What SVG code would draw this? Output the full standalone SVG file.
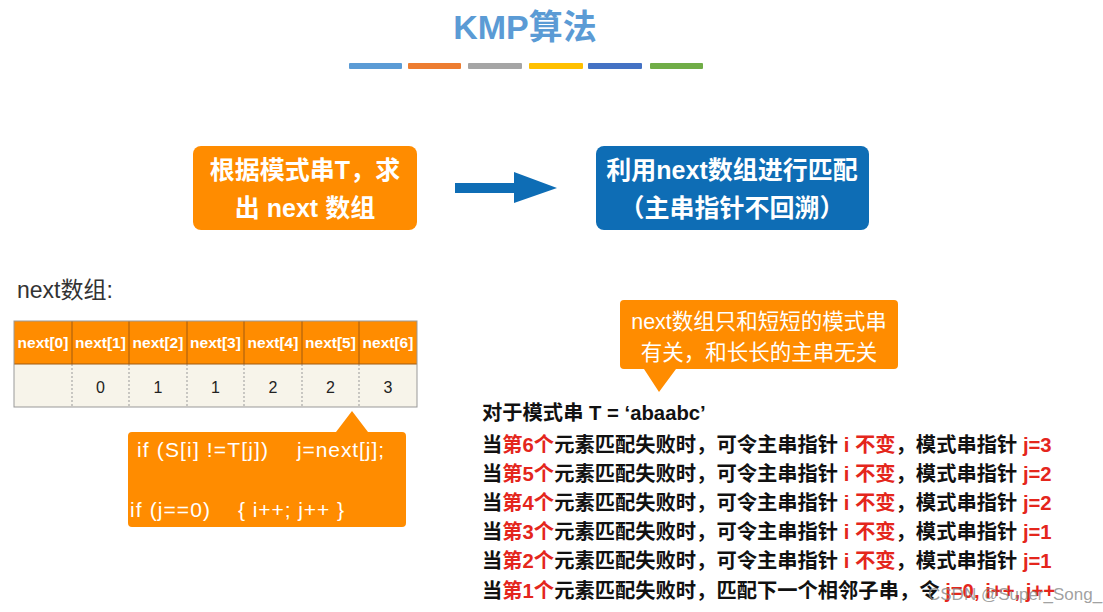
<svg xmlns="http://www.w3.org/2000/svg" width="1103" height="612" viewBox="0 0 1103 612">
<style>
text{font-family:"Liberation Sans","Noto Sans CJK SC",sans-serif}
.title{font-size:34px;font-weight:bold;fill:#5B9BD5}
.box{font-size:25px;font-weight:bold;fill:#fff}
.hd{font-size:15.5px;font-weight:bold;fill:#fff}
.val{font-size:16px;fill:#222}
.code{font-size:21px;fill:#fff}
.note{font-size:21.5px;fill:#fff}
.ln{font-size:20.3px;font-weight:bold;fill:#111}
.r{fill:#E4261C}
.sep{stroke:#A05A10;stroke-width:1}
.dot{stroke:#999;stroke-width:1;stroke-dasharray:2 2}
</style>
<rect width="1103" height="612" fill="#fff"/>
<g id="title">
<text class="title" x="525" y="39" text-anchor="middle">KMP算法</text>
<rect x="349" y="63" width="53" height="6" rx="1" fill="#5B9BD5"/>
<rect x="408" y="63" width="53" height="6" rx="1" fill="#ED7D31"/>
<rect x="468" y="63" width="54" height="6" rx="1" fill="#A5A5A5"/>
<rect x="529" y="63" width="54" height="6" rx="1" fill="#FFC000"/>
<rect x="588" y="63" width="54" height="6" rx="1" fill="#4472C4"/>
<rect x="650" y="63" width="53" height="6" rx="1" fill="#70AD47"/>
</g>
<g id="node-build">
<rect x="193" y="146" width="224" height="84" rx="8" fill="#FF8C00"/>
<text class="box" x="305" y="179" text-anchor="middle">根据模式串T，求</text>
<text class="box" x="305" y="217" text-anchor="middle">出 next 数组</text>
</g>
<g id="node-match">
<rect x="596" y="146" width="273" height="84" rx="8" fill="#0E6DB5"/>
<text class="box" x="732" y="179" text-anchor="middle">利用next数组进行匹配</text>
<text class="box" x="732" y="217" text-anchor="middle">（主串指针不回溯）</text>
</g>
<g id="connectors">
<polygon points="455,183 514,183 514,172 557,188 514,203 514,193 455,193" fill="#0E6DB5"/>
</g>
<g id="next-label">
<text x="17" y="298" font-size="23" fill="#333">next数组:</text>
</g>
<g id="next-table">
<rect x="14" y="321" width="403" height="43" fill="#FF8C00"/>
<rect x="14" y="364" width="403" height="43" fill="#F7F4EA"/>
<g class="sep">
<line x1="72" y1="321" x2="72" y2="364"/><line x1="129" y1="321" x2="129" y2="364"/><line x1="187" y1="321" x2="187" y2="364"/><line x1="244" y1="321" x2="244" y2="364"/><line x1="302" y1="321" x2="302" y2="364"/><line x1="359" y1="321" x2="359" y2="364"/>
</g>
<g class="dot">
<line x1="72" y1="364" x2="72" y2="407"/><line x1="129" y1="364" x2="129" y2="407"/><line x1="187" y1="364" x2="187" y2="407"/><line x1="244" y1="364" x2="244" y2="407"/><line x1="302" y1="364" x2="302" y2="407"/><line x1="359" y1="364" x2="359" y2="407"/>
</g>
<line x1="14" y1="364" x2="417" y2="364" stroke="#A05A10" stroke-width="1"/>
<rect x="14" y="321" width="403" height="86" fill="none" stroke="#999" stroke-width="1"/>
<g text-anchor="middle">
<text class="hd" x="43" y="348">next[0]</text>
<text class="hd" x="100.5" y="348">next[1]</text>
<text class="hd" x="158" y="348">next[2]</text>
<text class="hd" x="215.5" y="348">next[3]</text>
<text class="hd" x="273" y="348">next[4]</text>
<text class="hd" x="330.5" y="348">next[5]</text>
<text class="hd" x="388" y="348">next[6]</text>
<text class="val" x="100.5" y="393">0</text>
<text class="val" x="158" y="393">1</text>
<text class="val" x="215.5" y="393">1</text>
<text class="val" x="273" y="393">2</text>
<text class="val" x="330.5" y="393">2</text>
<text class="val" x="388" y="393">3</text>
</g>
</g>
<g id="node-code">
<path d="M132,432 L336,432 L352,411 L368,432 L402,432 Q406,432 406,436 L406,523 Q406,527 402,527 L132,527 Q128,527 128,523 L128,436 Q128,432 132,432 Z" fill="#FF8C00"/>
<text class="code" x="137" y="457" textLength="131" lengthAdjust="spacing">if (S[i] !=T[j])</text>
<text class="code" x="297" y="457" textLength="87" lengthAdjust="spacing">j=next[j];</text>
<text class="code" x="130" y="517" textLength="80" lengthAdjust="spacing">if (j==0)</text>
<text class="code" x="238" y="517" textLength="106" lengthAdjust="spacing">{ i++; j++ }</text>
</g>
<g id="node-note">
<path d="M624,300 L894,300 Q898,300 898,304 L898,365 Q898,369 894,369 L676,369 L659,392 L644,369 L624,369 Q620,369 620,365 L620,304 Q620,300 624,300 Z" fill="#FF8C00"/>
<text class="note" x="759" y="329" text-anchor="middle">next数组只和短短的模式串</text>
<text class="note" x="759" y="360" text-anchor="middle">有关，和长长的主串无关</text>
</g>
<g id="explanation">
<text class="ln" x="482" y="420">对于模式串 T = ‘abaabc’</text>
<text class="ln" x="482" y="452">当<tspan class="r">第6个</tspan>元素匹配失败时，可令主串指针 <tspan class="r">i 不变</tspan>，模式串指针 <tspan class="r">j=3</tspan></text>
<text class="ln" x="482" y="481">当<tspan class="r">第5个</tspan>元素匹配失败时，可令主串指针 <tspan class="r">i 不变</tspan>，模式串指针 <tspan class="r">j=2</tspan></text>
<text class="ln" x="482" y="510">当<tspan class="r">第4个</tspan>元素匹配失败时，可令主串指针 <tspan class="r">i 不变</tspan>，模式串指针 <tspan class="r">j=2</tspan></text>
<text class="ln" x="482" y="539">当<tspan class="r">第3个</tspan>元素匹配失败时，可令主串指针 <tspan class="r">i 不变</tspan>，模式串指针 <tspan class="r">j=1</tspan></text>
<text class="ln" x="482" y="568">当<tspan class="r">第2个</tspan>元素匹配失败时，可令主串指针 <tspan class="r">i 不变</tspan>，模式串指针 <tspan class="r">j=1</tspan></text>
<text class="ln" x="482" y="598">当<tspan class="r">第1个</tspan>元素匹配失败时，匹配下一个相邻子串，令 <tspan class="r">j=0, i++, j++</tspan></text>
</g>
<g id="watermark">
<text x="928" y="600" font-size="17" fill="#888" fill-opacity="0.8">CSDN @Super_Song_</text>
</g>
</svg>
